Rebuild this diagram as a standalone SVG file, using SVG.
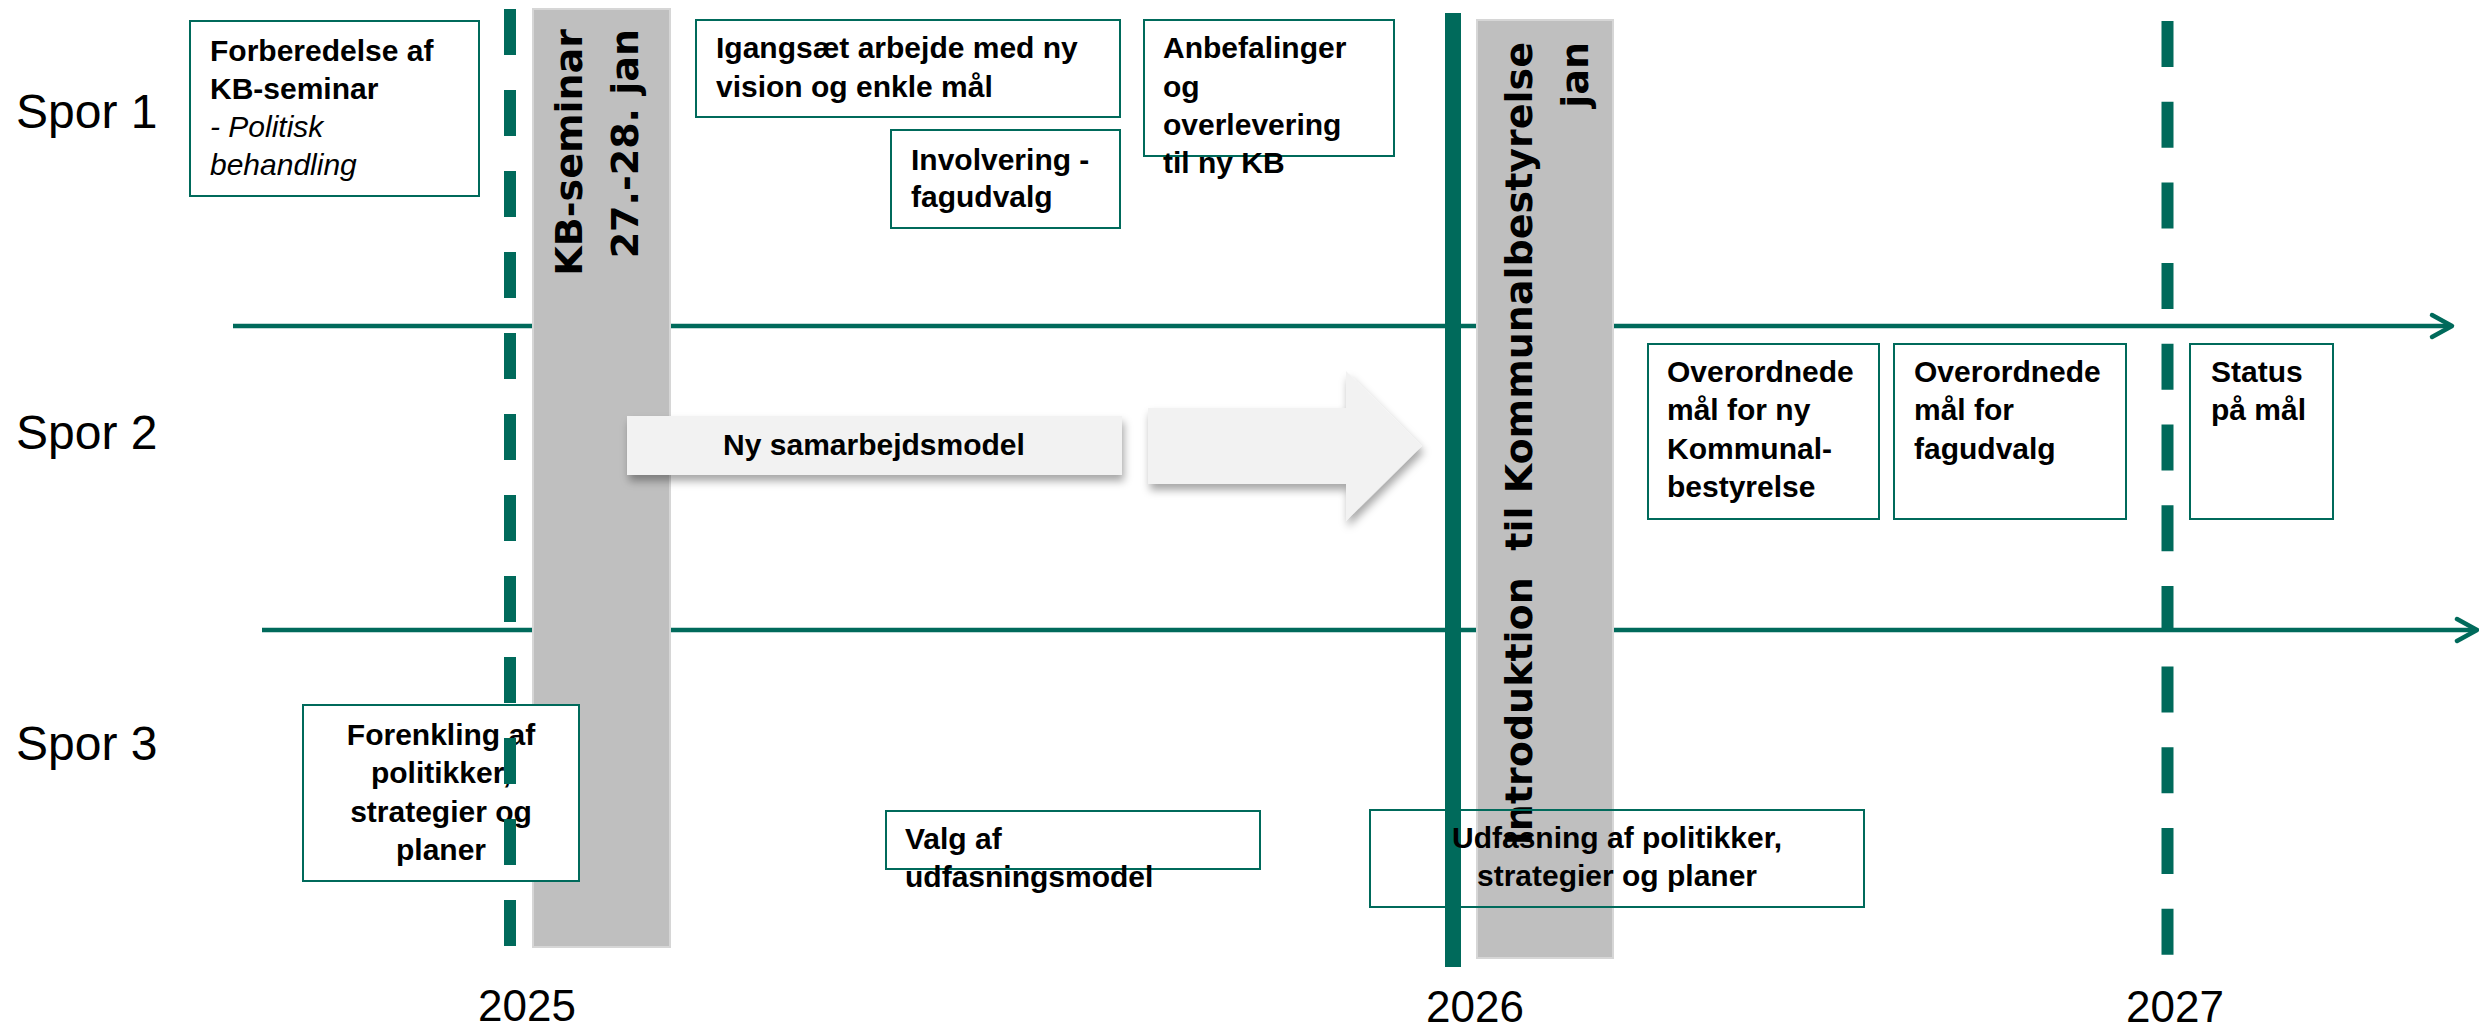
<svg xmlns="http://www.w3.org/2000/svg" width="2479" height="1032" viewBox="0 0 2479 1032">
<style>
.bg{fill:#fff}
.box{fill:none;stroke:#006A5B;stroke-width:2}
.boxw{fill:#fff;stroke:#006A5B;stroke-width:2}
.t{font-family:"Liberation Sans",Arial,sans-serif;font-weight:bold;font-size:30px;fill:#000}
.ti{font-style:italic;font-weight:normal}
.lbl{font-family:"Liberation Sans",Arial,sans-serif;font-size:48px;fill:#000}
.yr{font-family:"Liberation Sans",Arial,sans-serif;font-size:44px;fill:#000;text-anchor:middle}
.vt{font-family:"DejaVu Sans",Verdana,sans-serif;font-weight:bold;font-size:38px;fill:#000;text-anchor:end}
.axis{stroke:#006A5B;stroke-width:4.5;fill:none}
.head{stroke:#006A5B;stroke-width:4.5;fill:none;stroke-linecap:round;stroke-linejoin:round}
.dash{stroke:#006A5B;stroke-width:12;stroke-dasharray:46 35}
.solid{stroke:#006A5B;stroke-width:16}
.bar{fill:#BFBFBF;stroke:#D6D6D6;stroke-width:2}
.light{fill:#F2F2F2}
.mid{text-anchor:middle}
</style>
<defs>
<filter id="sh" x="-10%" y="-30%" width="120%" height="170%">
<feDropShadow dx="2" dy="6" stdDeviation="4" flood-color="#000" flood-opacity="0.35"/>
</filter>
</defs>
<rect class="bg" x="0" y="0" width="2479" height="1032"/>

<g id="labels">
<text class="lbl" x="16" y="128">Spor 1</text>
<text class="lbl" x="16" y="449">Spor 2</text>
<text class="lbl" x="16" y="760">Spor 3</text>
<text class="yr" x="527" y="1021">2025</text>
<text class="yr" x="1475" y="1022">2026</text>
<text class="yr" x="2175" y="1022">2027</text>
</g>

<g id="connectors">
<line class="axis" x1="233" y1="326" x2="2451" y2="326"/>
<polyline class="head" points="2432,315 2452,326 2432,337"/>
<line class="axis" x1="262" y1="630" x2="2476" y2="630"/>
<polyline class="head" points="2457,619 2477,630 2457,641"/>
</g>

<g id="kb-seminar">
<rect class="bar" x="533" y="9" width="137" height="938"/>
<text class="vt" transform="translate(582,29) rotate(-90)">KB-seminar</text>
<text class="vt" transform="translate(638,29) rotate(-90)">27.-28. jan</text>
</g>

<g id="introduktion">
<rect class="bar" x="1477" y="20" width="136" height="938"/>
</g>

<g id="forenkling">
<rect class="boxw" x="303" y="705" width="276" height="176"/>
<text class="t mid" x="441" y="745">Forenkling af</text>
<text class="t mid" x="441" y="783">politikker,</text>
<text class="t mid" x="441" y="822">strategier og</text>
<text class="t mid" x="441" y="860">planer</text>
</g>

<g id="milestones">
<line class="dash" x1="510" y1="9" x2="510" y2="946"/>
<line class="solid" x1="1453" y1="13" x2="1453" y2="967"/>
<line class="dash" x1="2167.5" y1="21" x2="2167.5" y2="955" style="stroke-dasharray:46 34.7"/>
</g>

<g id="introduktion-text">
<text class="vt" transform="translate(1532,42) rotate(-90)">Introduktion&#160; til Kommunalbestyrelse</text>
<text class="vt" transform="translate(1588,42) rotate(-90)">jan</text>
</g>

<g id="forberedelse">
<rect class="box" x="190" y="21" width="289" height="175"/>
<text class="t" x="210" y="61">Forberedelse af</text>
<text class="t" x="210" y="99">KB-seminar</text>
<text class="t ti" x="210" y="137">- Politisk</text>
<text class="t ti" x="210" y="175">behandling</text>
</g>

<g id="igangsaet">
<rect class="box" x="696" y="20" width="424" height="97"/>
<text class="t" x="716" y="58">Igangsæt arbejde med ny</text>
<text class="t" x="716" y="97">vision og enkle mål</text>
</g>

<g id="involvering">
<rect class="box" x="891" y="130" width="229" height="98"/>
<text class="t" x="911" y="170">Involvering -</text>
<text class="t" x="911" y="207">fagudvalg</text>
</g>

<g id="anbefalinger">
<rect class="box" x="1144" y="20" width="250" height="136"/>
<text class="t" x="1163" y="58">Anbefalinger</text>
<text class="t" x="1163" y="97">og</text>
<text class="t" x="1163" y="135">overlevering</text>
<text class="t" x="1163" y="173">til ny KB</text>
</g>

<g id="samarbejdsmodel">
<rect class="light" x="627" y="416" width="495" height="59" filter="url(#sh)"/>
<text class="t mid" x="874" y="455">Ny samarbejdsmodel</text>
</g>

<g id="block-arrow">
<polygon class="light" points="1148,408 1346,408 1346,371 1422,446 1346,521 1346,484 1148,484" filter="url(#sh)"/>
</g>

<g id="maal-kb">
<rect class="box" x="1648" y="344" width="231" height="175"/>
<text class="t" x="1667" y="382">Overordnede</text>
<text class="t" x="1667" y="420">mål for ny</text>
<text class="t" x="1667" y="459">Kommunal-</text>
<text class="t" x="1667" y="497">bestyrelse</text>
</g>

<g id="maal-fagudvalg">
<rect class="box" x="1894" y="344" width="232" height="175"/>
<text class="t" x="1914" y="382">Overordnede</text>
<text class="t" x="1914" y="420">mål for</text>
<text class="t" x="1914" y="459">fagudvalg</text>
</g>

<g id="status">
<rect class="box" x="2190" y="344" width="143" height="175"/>
<text class="t" x="2211" y="382">Status</text>
<text class="t" x="2211" y="420">på mål</text>
</g>

<g id="valg">
<rect class="box" x="886" y="811" width="374" height="58"/>
<text class="t" x="905" y="849">Valg af</text>
<text class="t" x="905" y="887">udfasningsmodel</text>
</g>

<g id="udfasning">
<rect class="box" x="1370" y="810" width="494" height="97"/>
<text class="t mid" x="1617" y="848">Udfasning af politikker,</text>
<text class="t mid" x="1617" y="886">strategier og planer</text>
</g>
</svg>
